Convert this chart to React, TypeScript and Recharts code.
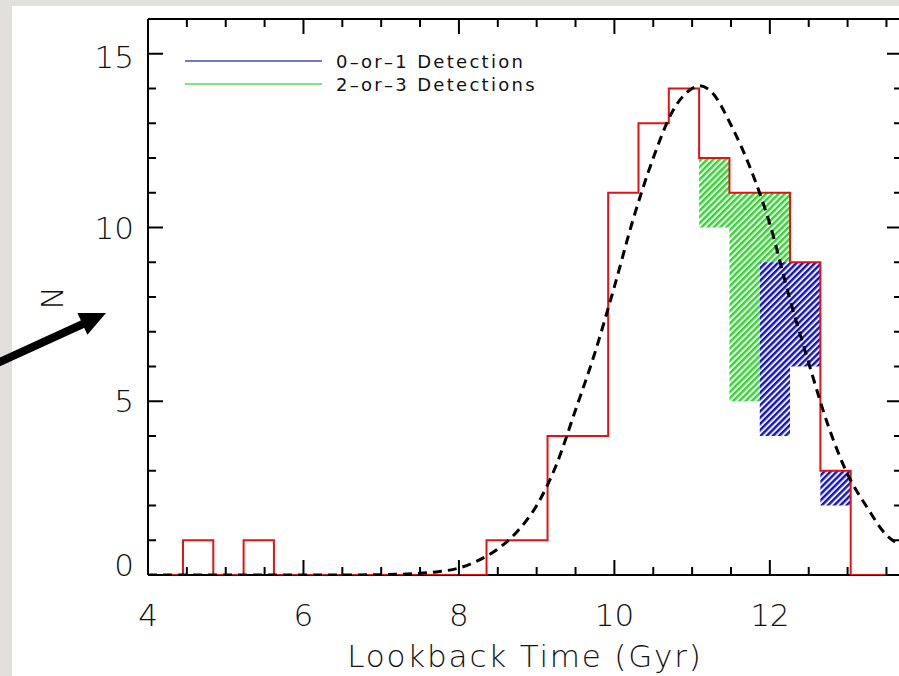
import React from 'react';
import { ComposedChart, Line, Area, XAxis, YAxis, Legend } from 'recharts';

// Histogram (red step outline): bin edges and counts held until the next edge
const histEdges = [4.06, 4.45, 4.84, 5.23, 5.62, 8.355, 9.14, 9.92, 10.31, 10.7, 11.09, 11.48, 11.87, 12.26, 12.65, 13.04, 13.7];
const histCounts = [0, 1, 0, 1, 0, 1, 4, 11, 13, 14, 12, 11, 11, 9, 3, 0, 0];

// 2-or-3 detections (green hatched ranges)
const greenEdges = [11.09, 11.48, 11.87, 12.26];
const greenLow = [10, 5, 9, 9];
const greenHigh = [12, 11, 11, 11];

// 0-or-1 detection (blue hatched ranges)
const blueEdgesA = [11.87, 12.26, 12.65];
const blueLowA = [4, 6, 6];
const blueHighA = [9, 9, 9];
const blueEdgesB = [12.65, 13.04];
const blueLowB = [2, 2];
const blueHighB = [3, 3];

// Dashed model curve
const curveX = [4.0, 5.0, 6.0, 6.5, 7.0, 7.5, 7.75, 8.0, 8.25, 8.5, 8.75, 9.0, 9.25, 9.5, 9.75, 10.0, 10.25, 10.5, 10.75, 11.0, 11.1, 11.25, 11.5, 11.75, 12.0, 12.25, 12.5, 12.75, 13.0, 13.25, 13.5, 13.7];
const curveY = [0, 0, 0, 0, 0.01, 0.05, 0.1, 0.2, 0.42, 0.75, 1.25, 2.0, 3.15, 4.75, 6.4, 8.3, 10.3, 12.0, 13.35, 14.0, 14.08, 13.9, 12.95, 11.7, 10.1, 8.0, 6.1, 4.3, 2.9, 1.95, 1.15, 0.85];

const xTicks = [4, 4.5, 5, 5.5, 6, 6.5, 7, 7.5, 8, 8.5, 9, 9.5, 10, 10.5, 11, 11.5, 12, 12.5, 13, 13.5];
const xLabelTicks = [4, 6, 8, 10, 12];
const yTicks = [0, 1, 2, 3, 4, 5, 6, 7, 8, 9, 10, 11, 12, 13, 14, 15];
const yLabelTicks = [0, 5, 10, 15];

const legendItems = [
  { label: '0\u2013or\u20131 Detection', color: '#7676c6' },
  { label: '2\u2013or\u20133 Detections', color: '#84e084' },
];

const X_DOMAIN: [number, number] = [4, 13.7];
const Y_DOMAIN: [number, number] = [0, 16];

const CHART_W = 930;
const CHART_H = 676;

const FONT = '"DejaVu Sans", "Liberation Sans", sans-serif';

const histData = histEdges.map((x, i) => ({ x, n: histCounts[i] }));
const greenData = greenEdges.map((x, i) => ({ x, r: [greenLow[i], greenHigh[i]] }));
const blueDataA = blueEdgesA.map((x, i) => ({ x, r: [blueLowA[i], blueHighA[i]] }));
const blueDataB = blueEdgesB.map((x, i) => ({ x, r: [blueLowB[i], blueHighB[i]] }));
const curveData = curveX.map((x, i) => ({ x, c: curveY[i] }));

const textStyle = { fontFamily: FONT, fontWeight: 200, fill: '#111' } as const;

const BottomTick = (props: any) => {
  const { x, y, payload } = props;
  const v = payload.value;
  const major = xLabelTicks.includes(v);
  return (
    <g>
      <line x1={x} x2={x} y1={y} y2={y - (major ? 15 : 8)} stroke="#000" strokeWidth={2} />
      {major && (
        <text x={x} y={y + 51} textAnchor="middle" fontSize={31} style={textStyle}>
          {v}
        </text>
      )}
    </g>
  );
};

const TopTick = (props: any) => {
  const { x, y, payload } = props;
  const major = xLabelTicks.includes(payload.value);
  return <line x1={x} x2={x} y1={y} y2={y + (major ? 15 : 8)} stroke="#000" strokeWidth={2} />;
};

const LeftTick = (props: any) => {
  const { x, y, payload } = props;
  const v = payload.value;
  const major = yLabelTicks.includes(v);
  const dy = v === 0 ? -10 : v === 15 ? 3 : 0;
  return (
    <g>
      <line x1={x} x2={x + (major ? 15 : 8)} y1={y} y2={y} stroke="#000" strokeWidth={2} />
      {major && (
        <text x={x - 14} y={y + 11 + dy} textAnchor="end" fontSize={31} style={textStyle}>
          {v}
        </text>
      )}
    </g>
  );
};

const RightTick = (props: any) => {
  const { x, y, payload } = props;
  const major = yLabelTicks.includes(payload.value);
  return <line x1={x} x2={x - (major ? 15 : 8)} y1={y} y2={y} stroke="#000" strokeWidth={2} />;
};

const XTitle = (props: any) => {
  const vb = props.viewBox || { x: 148, y: 575, width: 754, height: 60 };
  return (
    <text x={vb.x + vb.width / 2} y={vb.y + 92} textAnchor="middle" fontSize={31} style={{ ...textStyle, letterSpacing: 1.8 }}>
      Lookback Time (Gyr)
    </text>
  );
};

const YTitle = (props: any) => {
  const vb = props.viewBox || { x: 88, y: 19, width: 60, height: 556 };
  const cx = vb.x - 25;
  const cy = vb.y + vb.height / 2 + 1;
  return (
    <text x={cx} y={cy} textAnchor="middle" fontSize={31} transform={`rotate(-90, ${cx}, ${cy})`} style={textStyle}>
      N
    </text>
  );
};

const LegendBox = () => (
  <svg width={380} height={48} style={{ display: 'block', overflow: 'visible' }}>
    {legendItems.map((it, i) => (
      <g key={it.label}>
        <line x1={0} x2={137} y1={11 + i * 23} y2={11 + i * 23} stroke={it.color} strokeWidth={2} />
        <text x={151} y={18 + i * 23} fontSize={18} style={{ fontFamily: FONT, fontWeight: 400, fill: '#111', letterSpacing: 2.3 }}>
          {it.label}
        </text>
      </g>
    ))}
  </svg>
);

export default function App() {
  return (
    <div style={{ position: 'fixed', left: 0, top: 0, width: 899, height: 676, overflow: 'hidden', background: '#e2e0dc' }}>
      <div style={{ position: 'absolute', left: 12, top: 6, width: 887, height: 670, background: '#ffffff' }} />
      <svg width={0} height={0} style={{ position: 'absolute' }}>
        <defs>
          <pattern id="hatchGreen" patternUnits="userSpaceOnUse" width={4.4} height={4.4} patternTransform="rotate(45)">
            <rect x={0} y={0} width={4.4} height={4.4} fill="#f4fff4" />
            <rect x={0} y={0} width={2.4} height={4.4} fill="#2fd82f" />
          </pattern>
          <pattern id="hatchBlue" patternUnits="userSpaceOnUse" width={4.4} height={4.4} patternTransform="rotate(45)">
            <rect x={0} y={0} width={4.4} height={4.4} fill="#f0f0ff" />
            <rect x={0} y={0} width={2.4} height={4.4} fill="#1414c4" />
          </pattern>
        </defs>
      </svg>
      <div style={{ position: 'absolute', left: 0, top: 0, width: CHART_W, height: CHART_H }}>
        <ComposedChart width={CHART_W} height={CHART_H} margin={{ top: 9, left: 88, right: 18, bottom: 41 }}>
          <XAxis
            dataKey="x"
            type="number"
            domain={X_DOMAIN}
            allowDataOverflow
            ticks={xTicks}
            interval={0}
            tickSize={0}
            tickMargin={0}
            tickLine={false}
            tick={BottomTick}
            height={60}
            axisLine={{ stroke: '#000', strokeWidth: 2 }}
            label={XTitle}
          />
          <XAxis
            xAxisId="top"
            orientation="top"
            dataKey="x"
            type="number"
            domain={X_DOMAIN}
            allowDataOverflow
            ticks={xTicks}
            interval={0}
            tickSize={0}
            tickMargin={0}
            tickLine={false}
            tick={TopTick}
            height={10}
            axisLine={{ stroke: '#000', strokeWidth: 2 }}
          />
          <YAxis
            type="number"
            domain={Y_DOMAIN}
            allowDataOverflow
            ticks={yTicks}
            interval={0}
            tickSize={0}
            tickMargin={0}
            tickLine={false}
            tick={LeftTick}
            width={60}
            axisLine={{ stroke: '#000', strokeWidth: 2 }}
            label={YTitle}
          />
          <YAxis
            yAxisId="right"
            orientation="right"
            type="number"
            domain={Y_DOMAIN}
            allowDataOverflow
            ticks={yTicks}
            interval={0}
            tickSize={0}
            tickMargin={0}
            tickLine={false}
            tick={RightTick}
            width={10}
            axisLine={{ stroke: '#000', strokeWidth: 2 }}
          />
          <Legend
            layout="horizontal"
            verticalAlign="middle"
            align="center"
            content={LegendBox}
            wrapperStyle={{ left: 185, top: 50, width: 380, height: 48, bottom: 'auto' }}
          />
          <Area
            data={greenData}
            dataKey="r"
            type="stepAfter"
            stroke="none"
            fill="url(#hatchGreen)"
            fillOpacity={1}
            isAnimationActive={false}
            legendType="none"
            dot={false}
            activeDot={false}
          />
          <Area
            data={blueDataA}
            dataKey="r"
            type="stepAfter"
            stroke="none"
            fill="url(#hatchBlue)"
            fillOpacity={1}
            isAnimationActive={false}
            legendType="none"
            dot={false}
            activeDot={false}
          />
          <Area
            data={blueDataB}
            dataKey="r"
            type="stepAfter"
            stroke="none"
            fill="url(#hatchBlue)"
            fillOpacity={1}
            isAnimationActive={false}
            legendType="none"
            dot={false}
            activeDot={false}
          />
          <Line
            data={histData}
            dataKey="n"
            type="stepAfter"
            stroke="#e01414"
            strokeWidth={2}
            dot={false}
            activeDot={false}
            isAnimationActive={false}
            zIndex={600}
          />
          <Line
            data={curveData}
            dataKey="c"
            type="monotone"
            stroke="#000"
            strokeWidth={3}
            strokeDasharray="9 6"
            dot={false}
            activeDot={false}
            isAnimationActive={false}
            zIndex={610}
          />
        </ComposedChart>
      </div>
      <svg width={899} height={676} style={{ position: 'absolute', left: 0, top: 0, pointerEvents: 'none' }}>
        <line x1={-10} y1={366.5} x2={84} y2={323.5} stroke="#000" strokeWidth={8} />
        <polygon points="77.4,313 106,313 87.4,334.8" fill="#000" />
      </svg>
    </div>
  );
}
